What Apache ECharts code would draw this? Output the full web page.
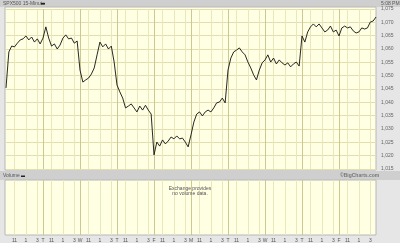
<!DOCTYPE html>
<html><head><meta charset="utf-8">
<script src="https://cdn.jsdelivr.net/npm/echarts@6/dist/echarts.min.js"></script>
<style>html,body{margin:0;padding:0;background:#e6e6e6}#c{width:400px;height:243px}</style>
</head><body><div id="c"></div>
<script>
const chartTitle = 'SPX500 15-Minute';
const timeStamp = '5:08 PM';
const volumeTitle = 'Volume';
const credit = '\u00A9BigCharts.com';
const noVolumeText = 'Exchange provides\nno volume data.';
const dayLetters = ['M','T','W','T','F','M','T','W','T','F'];
const slotTimes = ['9:30','10:00','10:30','11:00','11:30','12:00','12:30','13:00','13:30','14:00','14:30','15:00','15:30'];
const closeTime = '16:00';
const hourLabels = {'11:00':'11','13:00':'1','15:00':'3'};
const yMin = 1015, yMax = 1075, yStep = 5;
const closes = [
 1045.4,1058.9,1061.1,1060.8,1062.2,1063.4,1063.8,1064.9,1063.4,1064.5,1062.6,1063.8,1061.9,
 1064.1,1068.3,1064.1,1061.1,1061.9,1060.0,1061.5,1064.1,1065.3,1063.8,1064.1,1062.2,1063.0,
 1052.1,1047.6,1048.4,1049.1,1050.6,1052.9,1057.8,1062.6,1060.8,1061.9,1060.0,1061.1,1055.1,
 1046.5,1043.9,1041.6,1037.9,1038.6,1039.4,1037.9,1036.4,1038.6,1037.1,1038.9,1037.1,1035.6,
 1020.3,1025.1,1023.6,1025.9,1024.4,1025.5,1027.0,1026.3,1027.4,1026.3,1026.6,1025.1,1023.3,
 1027.8,1032.6,1035.6,1036.4,1034.9,1036.4,1037.1,1036.4,1037.9,1039.8,1040.1,1041.6,1039.8,
 1052.1,1056.6,1058.9,1059.6,1060.4,1058.9,1057.8,1055.1,1052.9,1050.3,1048.4,1052.1,1054.8,
 1055.9,1057.8,1055.1,1056.6,1054.4,1055.9,1054.8,1054.0,1054.8,1053.3,1054.4,1055.1,1053.6,
 1064.9,1062.6,1066.4,1068.3,1069.4,1068.3,1069.4,1067.9,1066.4,1067.1,1068.6,1066.4,1067.1,
 1064.9,1067.9,1068.6,1067.9,1068.3,1066.8,1066.0,1066.4,1067.9,1067.5,1067.9,1070.1,1070.5,1072.0
];

const categories = [];
dayLetters.forEach((d, i) => slotTimes.forEach(t => categories.push(i + '|' + d + '|' + t)));
categories.push((dayLetters.length - 1) + '|' + dayLetters[dayLetters.length - 1] + '|' + closeTime);

const isDayStart = (idx) => idx > 0 && categories[idx].split('|')[2] === slotTimes[0];
const isHour = (idx) => hourLabels[categories[idx].split('|')[2]] !== undefined;
const labelFmt = (v) => { const p = v.split('|'); return p[2] === slotTimes[0] ? p[1] : (hourLabels[p[2]] || ''); };

const bg = '#ffffe3', frame = '#e6e6e6', bar = '#cfcfcf';
const lightV = '#ebe7bd', darkV = '#cdc891', hLine = '#e2deb0';
const font = 'Liberation Sans';

function xAx(gi, showLbl, mode) {
  return {
    type: 'category', gridIndex: gi, position: 'bottom', data: categories, boundaryGap: false,
    axisLine: {show: false}, axisTick: {show: false},
    axisLabel: {show: showLbl, interval: (i) => isDayStart(i) || isHour(i), formatter: labelFmt,
      fontSize: 5, fontFamily: font, color: '#555', margin: 3},
    splitLine: {show: true, interval: mode === 'day' ? (i) => isDayStart(i) : (i) => isHour(i),
      lineStyle: {color: mode === 'day' ? darkV : lightV, width: 1}}
  };
}

const chart = echarts.init(document.getElementById('c'), null, {renderer: 'canvas'});
chart.setOption({
  animation: false,
  backgroundColor: frame,
  grid: [
    {left: 6, right: 24, top: 9, height: 160},
    {left: 6, right: 24, top: 180, height: 55}
  ],
  xAxis: [xAx(0, false, 'hour'), xAx(0, false, 'day'), xAx(1, false, 'hour'), xAx(1, true, 'day')],
  yAxis: [
    {type: 'value', gridIndex: 0, position: 'right', min: yMin, max: yMax, interval: yStep,
      axisLine: {show: false}, axisTick: {show: false},
      axisLabel: {fontSize: 5, fontFamily: font, color: '#666', margin: 5,
        formatter: (v) => v.toLocaleString('en-US')},
      splitLine: {show: true, lineStyle: {color: hLine, width: 1}}},
    {type: 'value', gridIndex: 1, min: 0, max: 1, show: false, splitLine: {show: false}}
  ],
  graphic: [
    {type: 'rect', z: -100, shape: {x: 0, y: 0, width: 400, height: 7}, style: {fill: bar}},
    {type: 'rect', z: -100, shape: {x: 0, y: 171, width: 400, height: 9}, style: {fill: bar}},
    {type: 'rect', z: -100, shape: {x: 5, y: 7, width: 371, height: 163}, style: {fill: bg, stroke: '#b8b8b8', lineWidth: 1}},
    {type: 'rect', z: -100, shape: {x: 5, y: 180, width: 371, height: 55}, style: {fill: bg, stroke: '#b8b8b8', lineWidth: 1}},
    {type: 'text', z: 100, left: 3, top: 1, style: {text: chartTitle, fontSize: 5, fontFamily: font, fill: '#555'}},
    {type: 'rect', z: 100, shape: {x: 41, y: 3, width: 4, height: 1.5}, style: {fill: '#222'}},
    {type: 'text', z: 100, left: 381, top: 1, style: {text: timeStamp, fontSize: 5, fontFamily: font, fill: '#555'}},
    {type: 'text', z: 100, left: 3, top: 173, style: {text: volumeTitle, fontSize: 5, fontFamily: font, fill: '#555'}},
    {type: 'rect', z: 100, shape: {x: 21, y: 175.5, width: 4, height: 1.5}, style: {fill: '#222'}},
    {type: 'text', z: 100, left: 340, top: 173, style: {text: credit, fontSize: 5, fontWeight: 'bold', fontFamily: font, fill: '#777'}},
    {type: 'text', z: 100, x: 190, y: 186, style: {text: noVolumeText, fontSize: 5, fontFamily: font, fill: '#555', align: 'center', verticalAlign: 'top', lineHeight: 5}}
  ],
  series: [
    {type: 'line', xAxisIndex: 0, yAxisIndex: 0, data: closes, showSymbol: false,
      lineStyle: {color: '#111', width: 0.9}, z: 5},
    {type: 'line', xAxisIndex: 2, yAxisIndex: 1, data: [], showSymbol: false}
  ]
});
</script></body></html>
